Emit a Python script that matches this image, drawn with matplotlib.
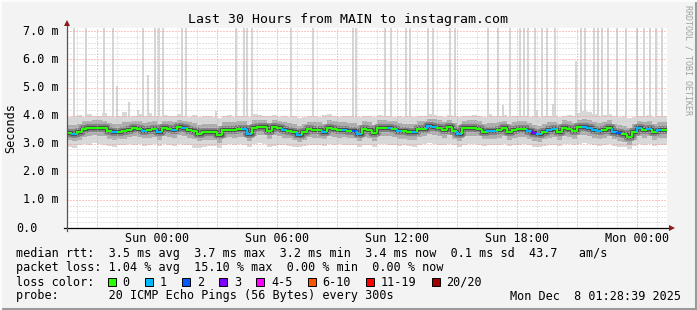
import numpy as np
import pandas as pd
import matplotlib
matplotlib.use('Agg')
import matplotlib.pyplot as plt
import matplotlib.dates as mdates
from matplotlib.collections import LineCollection
from matplotlib.patches import Rectangle
from matplotlib.lines import Line2D
from matplotlib.ticker import MultipleLocator, FuncFormatter

W, H = 697, 310
MONO = 'DejaVu Sans Mono'
CH = 7.12  # px per character at 8.5pt

# ---- data (one value per 15 min, 30 hours) ----
start = '2025-12-06 19:30'
step = '15min'

median_ms = [3.38, 3.33, 3.40, 3.52, 3.56, 3.57, 3.57, 3.55, 3.45, 3.40,
             3.42, 3.45, 3.50, 3.55, 3.52, 3.46, 3.50, 3.52, 3.40, 3.55,
             3.52, 3.48, 3.58, 3.55, 3.50, 3.44, 3.36, 3.42, 3.42, 3.40,
             3.30, 3.50, 3.50, 3.50, 3.52, 3.53, 3.35, 3.57, 3.58, 3.60,
             3.45, 3.58, 3.55, 3.49, 3.47, 3.42, 3.32, 3.42, 3.51, 3.49,
             3.48, 3.43, 3.55, 3.52, 3.50, 3.50, 3.47, 3.47, 3.35, 3.52,
             3.49, 3.38, 3.55, 3.56, 3.55, 3.52, 3.46, 3.44, 3.42, 3.40,
             3.52, 3.54, 3.62, 3.60, 3.55, 3.50, 3.58, 3.45, 3.36, 3.55,
             3.55, 3.56, 3.53, 3.43, 3.45, 3.45, 3.50, 3.55, 3.40, 3.49,
             3.52, 3.52, 3.44, 3.38, 3.33, 3.43, 3.50, 3.51, 3.42, 3.57,
             3.52, 3.45, 3.58, 3.58, 3.55, 3.50, 3.45, 3.50, 3.55, 3.43,
             3.38, 3.33, 3.23, 3.43, 3.55, 3.50, 3.54, 3.40, 3.48, 3.50]

loss_pings = [0, 1, 0, 0, 0, 0, 0, 0, 0, 1,
              0, 0, 0, 0, 0, 1, 0, 0, 1, 0,
              0, 1, 0, 1, 0, 0, 0, 0, 0, 0,
              0, 0, 0, 0, 0, 1, 1, 0, 0, 0,
              0, 0, 0, 1, 0, 0, 1, 0, 0, 0,
              0, 1, 0, 0, 0, 1, 0, 2, 1, 0,
              0, 0, 0, 0, 1, 0, 1, 0, 0, 1,
              0, 0, 1, 1, 0, 0, 0, 0, 1, 0,
              0, 0, 0, 0, 1, 1, 0, 0, 0, 0,
              0, 0, 1, 3, 1, 0, 1, 1, 0, 0,
              0, 0, 0, 1, 1, 1, 1, 0, 0, 1,
              2, 0, 0, 0, 1, 0, 1, 0, 1, 0]

smoke_hi = [3.95, 3.98, 4.02, 3.96, 4.05, 4.00, 3.97, 4.10, 3.98, 3.95,
            4.00, 4.12, 3.96, 3.99, 4.05, 3.97, 4.08, 4.00, 3.95, 4.02,
            3.97, 4.00, 4.05, 3.98, 3.96, 4.02, 3.94, 3.97, 4.00, 3.95,
            3.92, 3.98, 4.03, 3.96, 4.00, 3.97, 3.94, 4.05, 4.02, 4.00,
            3.98, 4.04, 3.96, 3.99, 3.95, 3.97, 3.93, 3.96, 4.00, 3.98,
            3.96, 4.02, 4.06, 3.98, 3.95, 3.97, 3.99, 3.96, 3.94, 4.00,
            3.97, 3.95, 4.02, 4.00, 3.98, 3.96, 3.99, 3.95, 3.97, 3.94,
            3.98, 4.00, 4.05, 4.03, 3.99, 3.96, 4.02, 3.97, 3.94, 3.99,
            4.00, 4.03, 3.98, 3.96, 4.05, 3.97, 3.99, 4.02, 3.95, 3.98,
            4.00, 3.97, 3.95, 3.98, 3.94, 3.97, 4.00, 4.02, 3.96, 4.00,
            4.03, 3.98, 4.08, 4.15, 4.12, 4.05, 3.98, 4.02, 4.06, 3.97,
            3.95, 3.97, 3.92, 3.96, 4.00, 3.98, 4.02, 3.96, 3.99, 3.98]

smoke_lo = [2.90, 2.85, 2.95, 3.00, 2.97, 3.02, 2.98, 2.95, 2.92, 2.88,
            2.95, 2.97, 3.00, 2.96, 2.99, 2.93, 2.97, 3.00, 2.92, 2.98,
            2.96, 2.93, 3.00, 2.97, 2.95, 2.86, 2.84, 2.90, 2.93, 2.91,
            2.85, 2.95, 2.98, 2.96, 2.99, 2.97, 2.90, 3.00, 3.02, 2.98,
            2.88, 2.92, 2.97, 2.95, 2.93, 2.90, 2.87, 2.93, 2.97, 2.95,
            2.96, 2.93, 2.98, 2.97, 2.99, 2.96, 2.94, 2.95, 2.88, 2.97,
            2.95, 2.90, 2.98, 3.00, 2.97, 2.96, 2.93, 2.95, 2.92, 2.90,
            2.97, 2.99, 3.02, 3.00, 2.97, 2.95, 3.00, 2.94, 2.88, 2.97,
            2.98, 3.00, 2.96, 2.93, 2.95, 2.94, 2.97, 2.99, 2.92, 2.96,
            2.97, 2.98, 2.94, 2.90, 2.87, 2.93, 2.96, 2.97, 2.92, 3.00,
            2.98, 2.94, 3.00, 3.02, 2.99, 2.96, 2.93, 2.96, 2.98, 2.92,
            2.90, 2.87, 2.82, 2.93, 2.98, 2.96, 2.99, 2.91, 2.95, 2.96]

mid_hi = [3.68, 3.66, 3.72, 3.80, 3.82, 3.84, 3.83, 3.82, 3.74, 3.70,
          3.72, 3.78, 3.78, 3.82, 3.80, 3.74, 3.79, 3.80, 3.70, 3.82,
          3.80, 3.76, 3.85, 3.82, 3.78, 3.73, 3.66, 3.71, 3.72, 3.70,
          3.62, 3.78, 3.79, 3.77, 3.80, 3.81, 3.66, 3.84, 3.85, 3.86,
          3.74, 3.85, 3.82, 3.77, 3.75, 3.71, 3.63, 3.71, 3.79, 3.77,
          3.76, 3.72, 3.83, 3.80, 3.78, 3.78, 3.75, 3.75, 3.65, 3.80,
          3.77, 3.67, 3.83, 3.84, 3.82, 3.80, 3.74, 3.72, 3.71, 3.69,
          3.80, 3.82, 3.89, 3.87, 3.83, 3.78, 3.85, 3.74, 3.66, 3.82,
          3.83, 3.84, 3.81, 3.72, 3.74, 3.74, 3.78, 3.82, 3.69, 3.77,
          3.80, 3.80, 3.73, 3.67, 3.63, 3.72, 3.78, 3.79, 3.71, 3.84,
          3.80, 3.74, 3.86, 3.87, 3.83, 3.79, 3.74, 3.78, 3.83, 3.72,
          3.67, 3.63, 3.55, 3.72, 3.82, 3.78, 3.82, 3.69, 3.76, 3.78]

mid_lo = [3.12, 3.08, 3.14, 3.24, 3.28, 3.30, 3.29, 3.27, 3.18, 3.13,
          3.16, 3.18, 3.23, 3.27, 3.25, 3.19, 3.22, 3.25, 3.13, 3.27,
          3.24, 3.20, 3.30, 3.27, 3.22, 3.16, 3.08, 3.14, 3.15, 3.13,
          3.04, 3.22, 3.23, 3.22, 3.25, 3.25, 3.08, 3.29, 3.30, 3.32,
          3.17, 3.30, 3.27, 3.21, 3.19, 3.15, 3.05, 3.14, 3.23, 3.21,
          3.20, 3.16, 3.27, 3.25, 3.22, 3.23, 3.19, 3.20, 3.08, 3.25,
          3.22, 3.11, 3.27, 3.28, 3.27, 3.25, 3.18, 3.17, 3.15, 3.13,
          3.25, 3.27, 3.34, 3.32, 3.28, 3.22, 3.30, 3.18, 3.09, 3.27,
          3.28, 3.28, 3.26, 3.16, 3.18, 3.17, 3.22, 3.27, 3.13, 3.21,
          3.24, 3.25, 3.17, 3.11, 3.06, 3.16, 3.22, 3.23, 3.15, 3.29,
          3.25, 3.18, 3.30, 3.31, 3.28, 3.22, 3.17, 3.22, 3.27, 3.16,
          3.11, 3.06, 2.97, 3.15, 3.27, 3.22, 3.26, 3.13, 3.20, 3.22]

# single pings far above the smoke (hours after start, ms)
spike_hours = [0.35, 0.95, 1.85, 2.3, 3.8, 4.4, 4.6, 4.8, 5.75, 5.95,
               8.45, 8.85, 9.0, 9.25, 11.2, 12.3, 14.3, 14.45, 15.9, 16.2,
               16.95, 17.15, 18.05, 18.3, 19.15, 19.4, 21.05, 21.55, 22.15, 22.65,
               22.85, 23.05, 23.4, 23.75, 24.0, 24.4, 25.7, 25.9, 26.35, 26.55,
               26.75, 27.05, 27.5, 27.95, 28.5, 28.85, 29.15, 29.45, 29.75,
               2.5, 3.1, 4.05, 3.55, 7.45, 13.05, 21.8, 23.5, 24.3, 25.45]
spike_ms = [7.5] * 49 + [5.05, 4.49, 5.43, 4.2, 4.15, 4.05, 4.38, 4.2, 4.4, 5.93]

ytick_vals = [0, 1, 2, 3, 4, 5, 6, 7]
ytick_labels = ['0.0   ', '1.0 m', '2.0 m', '3.0 m', '4.0 m', '5.0 m', '6.0 m', '7.0 m']

loss_labels = ['0', '1', '2', '3', '4-5', '6-10', '11-19', '20/20']
loss_upper = [0, 1, 2, 3, 5, 10, 19, 20]
loss_colors = ['#26ff00', '#00b8ff', '#0059ff', '#7e00ff', '#ff00ff', '#ff5500', '#ff0000', '#a10000']

title = 'Last 30 Hours from MAIN to instagram.com'
legend_rtt = 'median rtt:  3.5 ms avg  3.7 ms max  3.2 ms min  3.4 ms now  0.1 ms sd  43.7   am/s'
legend_loss = 'packet loss: 1.04 % avg  15.10 % max  0.00 % min  0.00 % now'
legend_probe = 'probe:       20 ICMP Echo Pings (56 Bytes) every 300s'
stamp = 'Mon Dec  8 01:28:39 2025'


def fx(x):
    return x / W


def fy(y):
    return 1 - y / H


fig = plt.figure(figsize=(W / 100, H / 100), dpi=100, facecolor='#f3f3f3')
ax = fig.add_axes([fx(67), fy(228), 600 / W, 200 / H])
ax.set_facecolor('white')

edges = pd.date_range(start, periods=len(median_ms) + 1, freq=step)
xe = mdates.date2num(edges.to_pydatetime())


def closed(vals):
    return list(vals) + [vals[-1]]


# smoke
sx = mdates.date2num((pd.Timestamp(start) + pd.to_timedelta(spike_hours, unit='h')).to_pydatetime())
ax.bar(sx, np.array(spike_ms) - 3.5, bottom=3.5, width=0.14 / 24, color='#d6d6d6', zorder=1)
ax.fill_between(xe, closed(smoke_lo), closed(smoke_hi), step='post', color='#d8d8d8', lw=0, zorder=1.2)
ax.fill_between(xe, closed(mid_lo), closed(mid_hi), step='post', color='#adadad', lw=0, zorder=1.4)
ax.step(xe, closed(median_ms), where='post', color='#7e7e7e', lw=5.5, zorder=1.6)
ax.step(xe, closed(median_ms), where='post', color='#4a4a4a', lw=2.8, zorder=1.8)

# median coloured by loss
segs, cols = [], []
for i, m in enumerate(median_ms):
    ci = next(k for k, u in enumerate(loss_upper) if loss_pings[i] <= u)
    prev = median_ms[i - 1] if i > 0 else m
    segs.append([(xe[i], prev), (xe[i], m), (xe[i + 1], m)])
    cols.append(loss_colors[ci])
ax.add_collection(LineCollection(segs, colors=cols, linewidths=1.5, zorder=5,
                                 joinstyle='miter', capstyle='butt'))

ax.set_xlim(xe[0], xe[-1])
ax.set_ylim(0, 7.12)

# grid
ax.xaxis.set_major_locator(mdates.HourLocator(byhour=range(0, 24, 3)))
ax.xaxis.set_minor_locator(mdates.HourLocator())
ax.yaxis.set_major_locator(MultipleLocator(1))
ax.yaxis.set_minor_locator(MultipleLocator(0.2))
dots = (0, (1, 2))
ax.grid(which='minor', color='#cacaca', ls=dots, lw=0.72, zorder=3)
ax.grid(which='major', color='#ff8c8c', ls=dots, lw=0.72, zorder=3)
ax.set_axisbelow(False)


def xfmt(v, pos):
    d = mdates.num2date(v)
    return d.strftime('%a %H:%M') if d.hour % 6 == 0 else ''


ax.xaxis.set_major_formatter(FuncFormatter(xfmt))
ax.tick_params(axis='x', which='both', length=0, pad=3.0, labelsize=8.5)
for lab in ax.get_xticklabels():
    lab.set_fontfamily(MONO)
ax.tick_params(axis='y', which='both', length=0, labelleft=False)

for v, lab in zip(ytick_vals, ytick_labels):
    trail = len(lab) - len(lab.rstrip())
    ax.annotate(lab.rstrip(), xy=(0, v), xycoords=('axes fraction', 'data'),
                xytext=(-8.5 - trail * CH, 0), textcoords='offset pixels',
                ha='right', va='center', fontsize=8.5, family=MONO)

for s in ax.spines.values():
    s.set_visible(False)

# axes with arrows
ax.plot([-3 / 600, 1 + 3 / 600], [0, 0], transform=ax.transAxes, color='black', lw=0.9,
        clip_on=False, zorder=6)
ax.plot([0, 0], [-3 / 200, 1 + 4 / 200], transform=ax.transAxes, color='#555555', lw=0.9,
        clip_on=False, zorder=6)
ax.plot([1 + 5 / 600], [0], marker='>', ms=4.5, color='#8b1a1a', transform=ax.transAxes,
        clip_on=False, zorder=7, mew=0)
ax.plot([0], [1 + 5 / 200], marker='^', ms=4.5, color='#8b1a1a', transform=ax.transAxes,
        clip_on=False, zorder=7, mew=0)

# texts
fig.text(fx(348), fy(19), title, ha='center', va='center', fontsize=9.5, family=MONO)
fig.text(fx(11), fy(128), 'Seconds', rotation=90, ha='center', va='center', fontsize=8.5, family=MONO)
fig.text(fx(688), fy(5), 'RRDTOOL / TOBI OETIKER', rotation=270, ha='center', va='top',
         fontsize=6, family=MONO, color='#a0a0a0')

rows = [254, 268, 282, 296]
fig.text(fx(16), fy(rows[0]), legend_rtt, ha='left', va='center', fontsize=8.5, family=MONO)
fig.text(fx(16), fy(rows[1]), legend_loss, ha='left', va='center', fontsize=8.5, family=MONO)
fig.text(fx(16), fy(rows[2]), 'loss color:', ha='left', va='center', fontsize=8.5, family=MONO)
fig.text(fx(16), fy(rows[3]), legend_probe, ha='left', va='center', fontsize=8.5, family=MONO)
fig.text(fx(681), fy(rows[3]), stamp, ha='right', va='center', fontsize=8.5, family=MONO)

lx = 123.0
for lab, col in zip(loss_labels, loss_colors):
    fig.patches.append(Rectangle((fx(lx - 15), fy(rows[2] + 4)), 8 / W, 8 / H, facecolor=col,
                                 edgecolor='black', lw=0.7, transform=fig.transFigure))
    fig.text(fx(lx - 0.5), fy(rows[2]), lab, ha='left', va='center', fontsize=8.5, family=MONO)
    lx += len(lab) * CH + 30

# frame
fig.lines.append(Line2D([0, 1], [fy(309), fy(309)], transform=fig.transFigure, color='#9a9a9a', lw=1.5))
fig.lines.append(Line2D([fx(696), fx(696)], [0, 1], transform=fig.transFigure, color='#9a9a9a', lw=1.5))
fig.lines.append(Line2D([0, 1], [fy(0.5), fy(0.5)], transform=fig.transFigure, color='#fcfcfc', lw=1.5))
fig.lines.append(Line2D([fx(0.5), fx(0.5)], [0, 1], transform=fig.transFigure, color='#fcfcfc', lw=1.5))

fig.savefig('out.png', dpi=100, facecolor=fig.get_facecolor())
